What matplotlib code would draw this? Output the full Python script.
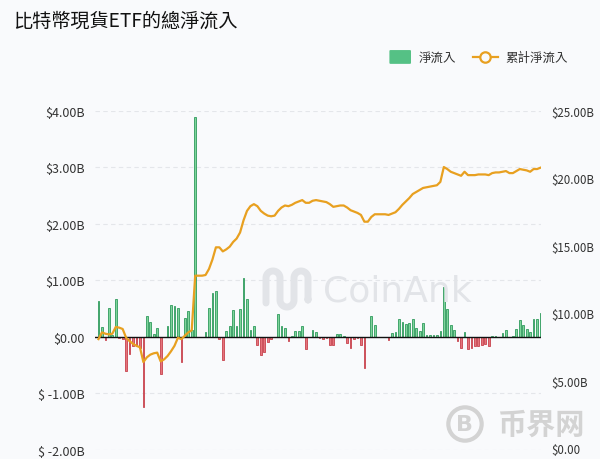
import numpy as np
import matplotlib.pyplot as plt
from matplotlib.lines import Line2D
from matplotlib.patches import FancyBboxPatch

plt.rcParams['font.family'] = ['Noto Sans CJK TC', 'DejaVu Sans']

# 每日淨流入 (十億美元)
net_flow = [
    0.63, 0.18, -0.06, 0.51, 0.03, 0.67, -0.02, -0.03, -0.61, -0.30,
    -0.17, -0.17, -0.20, -1.25, 0.37, 0.27, 0.05, 0.15, -0.65, 0.00,
    0.20, 0.57, 0.54, 0.51, -0.44, 0.33, 0.46, 0.13, 3.90, 0.00,
    0.00, 0.08, 0.51, 0.77, 0.82, -0.03, -0.41, 0.10, 0.19, 0.47,
    0.20, 0.50, 1.04, 0.67, 0.13, 0.19, -0.15, -0.32, -0.26, -0.09,
    -0.04, 0.00, 0.41, 0.19, 0.15, -0.08, 0.02, 0.10, 0.10, 0.19,
    -0.22, 0.00, 0.12, 0.08, -0.02, -0.03, -0.02, -0.15, -0.15, 0.05,
    0.05, 0.02, -0.10, -0.20, -0.04, -0.02, -0.15, -0.55, -0.01, 0.37,
    0.21, 0.00, 0.00, 0.00, -0.06, 0.06, 0.09, 0.31, 0.27, 0.23,
    0.24, 0.31, 0.15, 0.10, 0.25, 0.04, 0.03, 0.03, 0.04, 0.10,
    0.88, 0.49, 0.21, 0.13, -0.08, -0.19, 0.09, -0.22, -0.19, -0.17,
    -0.16, -0.15, -0.12, -0.17, 0.02, 0.02, 0.00, 0.06, 0.13, 0.00,
    0.01, 0.14, 0.29, 0.21, 0.14, 0.08, 0.31, 0.31, 0.42,
]

# 累計淨流入 (十億美元)
cum_flow = [
    8.10, 8.60, 8.50, 8.45, 8.50, 9.00, 8.95, 8.85, 8.20, 7.95,
    7.75, 7.60, 7.50, 6.40, 6.75, 6.95, 7.05, 7.10, 6.45, 6.60,
    6.85, 7.20, 7.60, 8.20, 8.10, 8.35, 8.60, 8.75, 12.80, 12.80,
    12.80, 12.85, 13.30, 14.00, 14.90, 14.90, 14.60, 14.75, 14.95, 15.30,
    15.55, 16.00, 16.90, 17.60, 17.95, 18.10, 17.95, 17.60, 17.40, 17.25,
    17.20, 17.25, 17.60, 17.85, 18.00, 17.95, 18.05, 18.20, 18.30, 18.40,
    18.20, 18.20, 18.35, 18.40, 18.35, 18.30, 18.25, 18.10, 17.90, 17.95,
    18.00, 18.00, 17.85, 17.65, 17.55, 17.45, 17.30, 16.80, 16.80, 17.15,
    17.35, 17.35, 17.35, 17.35, 17.30, 17.40, 17.50, 17.75, 18.05, 18.30,
    18.55, 18.85, 19.00, 19.15, 19.30, 19.35, 19.40, 19.45, 19.50, 19.75,
    20.85, 20.70, 20.50, 20.40, 20.30, 20.20, 20.50, 20.25, 20.25, 20.25,
    20.30, 20.30, 20.30, 20.25, 20.40, 20.45, 20.45, 20.50, 20.55, 20.40,
    20.40, 20.55, 20.70, 20.65, 20.60, 20.50, 20.70, 20.70, 20.80,
]

left_ticks = [-2, -1, 0, 1, 2, 3, 4]
left_labels = ['$ -2.00B', '$ -1.00B', '$0.00', '$1.00B', '$2.00B', '$3.00B', '$4.00B']
right_ticks = [0, 5, 10, 15, 20, 25]
right_labels = ['$0.00', '$5.00B', '$10.00B', '$15.00B', '$20.00B', '$25.00B']

GREEN_FILL = '#7fd49b'
GREEN_EDGE = '#2f9a5c'
RED_FILL = '#e5747c'
RED_EDGE = '#c7414c'
ORANGE = '#e8a020'
BG = '#f9fafc'
WM = '#e2e4e8'

x = np.arange(len(net_flow))
vals = np.array(net_flow)
fills = [GREEN_FILL if v >= 0 else RED_FILL for v in vals]
edges = [GREEN_EDGE if v >= 0 else RED_EDGE for v in vals]

fig = plt.figure(figsize=(6, 4.6), dpi=100, facecolor=BG)


def px(xp, yp):
    # 像素座標 -> 圖形座標
    return np.asarray(xp) / 600.0, 1 - np.asarray(yp) / 460.0


# 水印 (CoinAnk 標誌)
t = np.linspace(0, np.pi, 30)
r = 7.0
cols = [266, 280, 294, 308]
top, bot = 272, 308
path_x, path_y = [cols[0], cols[0]], [bot - 4, top + r]
for i in range(3):
    cx = (cols[i] + cols[i + 1]) / 2
    if i % 2 == 0:
        path_x += list(cx - r * np.cos(t)); path_y += list(top + r - r * np.sin(t))
        path_x += [cols[i + 1]]; path_y += [bot - r]
    else:
        path_x += list(cx - r * np.cos(t)); path_y += list(bot - r + r * np.sin(t))
        path_x += [cols[i + 1]]; path_y += [top + r]
path_x += [cols[3]]; path_y += [bot - 8]
lx, ly = px(path_x, path_y)
fig.lines.append(Line2D(lx, ly, transform=fig.transFigure, color=WM, lw=5,
                        solid_capstyle='round', zorder=0))
fig.text(397 / 600, 1 - 291 / 460, 'CoinAnk', fontsize=26, color=WM, ha='center',
         va='center', family='DejaVu Sans', zorder=0)

ax = fig.add_axes([0.158, 0.02, 0.744, 0.7365])
ax.patch.set_alpha(0)

ax.bar(x, vals, width=0.5, color=fills, edgecolor=edges, linewidth=0.6, zorder=2)
ax.axhline(0, color='#111111', lw=1.0, zorder=3)
ax.set_ylim(-2, 4)
ax.set_xlim(-1.07, 128.2)
ax.set_yticks(left_ticks)
ax.set_yticklabels(left_labels)
ax.set_xticks([])
ax.grid(axis='y', color='#e4e6ea', lw=0.8, ls=(0, (4, 3)))
ax.tick_params(axis='y', length=0, pad=7, labelsize=9, labelcolor='#333333')
for s in ax.spines.values():
    s.set_visible(False)

ax2 = ax.twinx()
ax2.plot(x, cum_flow, color=ORANGE, lw=1.6, zorder=4)
ax2.set_ylim(-0.1, 25)
ax2.set_yticks(right_ticks)
ax2.set_yticklabels(right_labels)
ax2.tick_params(axis='y', length=0, pad=7, labelsize=8.3, labelcolor='#333333')
for s in ax2.spines.values():
    s.set_visible(False)

# 水印 (币界网)
cx, cy = px(465, 425)
fig.text(cx, cy, 'B', fontsize=16, color='#d3d3d3', ha='center', va='center',
         family='DejaVu Sans', fontweight='bold', zorder=0,
         bbox=dict(boxstyle='circle,pad=0.3', fc='none', ec='#d3d3d3', lw=3))
fig.text(541 / 600, cy, '币界网', fontsize=21, color='#d3d3d3', ha='center',
         va='center', fontweight='bold', zorder=0, family=['Noto Sans CJK SC'])

# 標題
fig.text(0.022, 0.955, '比特幣現貨ETF的總淨流入', fontsize=13.8, color='#111111',
         ha='left', va='center')

# 圖例
fig.patches.append(FancyBboxPatch((0.651, 0.861), 0.032, 0.026,
                                  boxstyle='round,pad=0.002', transform=fig.transFigure,
                                  facecolor='#55c185', edgecolor='none'))
fig.text(0.697, 0.873, '淨流入', fontsize=9, color='#333333', ha='left', va='center')
fig.lines.append(Line2D([0.788, 0.83], [0.873, 0.873], transform=fig.transFigure,
                        color=ORANGE, lw=1.6))
fig.lines.append(Line2D([0.809], [0.873], transform=fig.transFigure, color=ORANGE,
                        marker='o', markersize=7.5, markerfacecolor=BG,
                        markeredgewidth=1.6, lw=0))
fig.text(0.842, 0.873, '累計淨流入', fontsize=9, color='#333333', ha='left', va='center')

fig.savefig('out.png', dpi=100, facecolor=BG)
